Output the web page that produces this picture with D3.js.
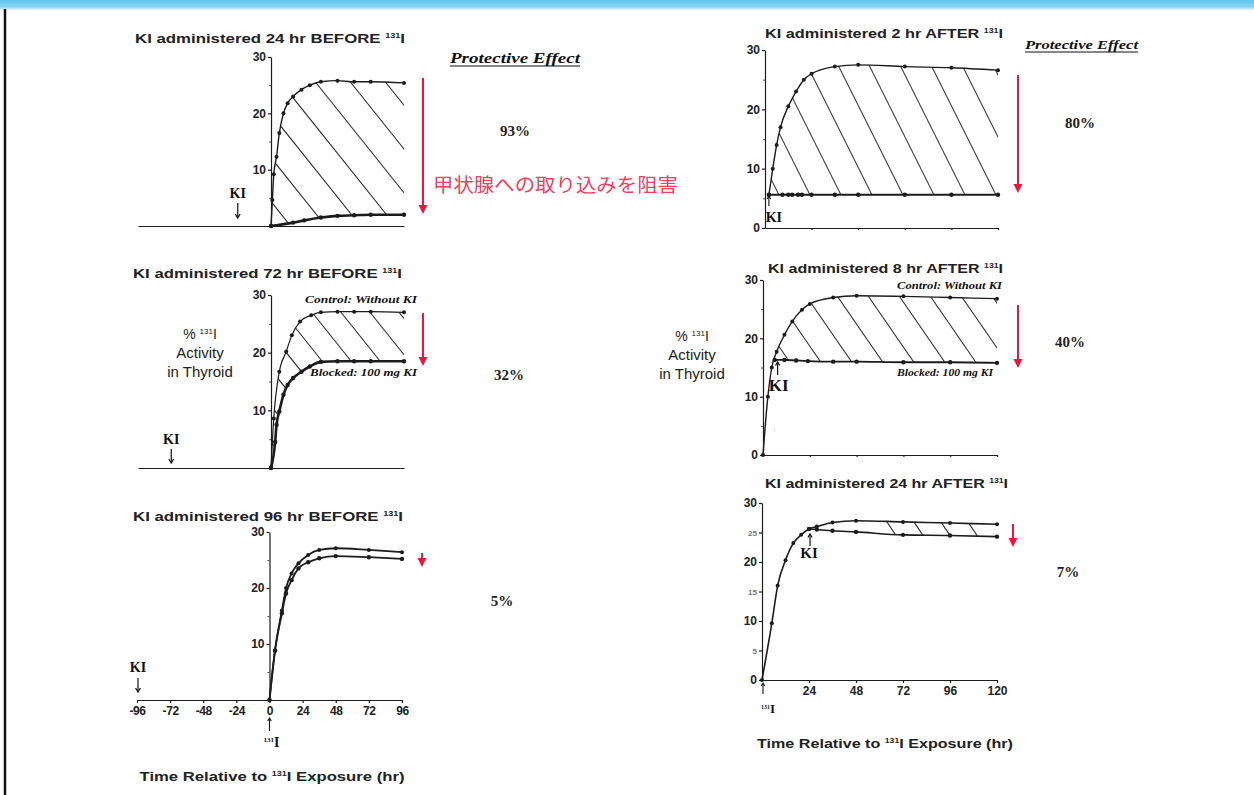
<!DOCTYPE html>
<html>
<head>
<meta charset="utf-8">
<script src="https://cdn.jsdelivr.net/npm/d3@7"></script>
<style>
  html, body { margin: 0; padding: 0; background: #fff; }
  svg { display: block; }
</style>
</head>
<body>
<svg id="chart" width="1254" height="795"></svg>
<script>
// ---- Data: % 131I activity in thyroid vs hours relative to 131I exposure ----

// KI 24 hr before
const p1ControlHours = [0, 1, 2, 4, 6, 9, 12, 16, 22, 28, 36, 48, 60, 72, 96];
const p1ControlPct   = [0, 4.6, 9.2, 12.3, 16.5, 20, 21.8, 23, 24.2, 25, 25.6, 25.8, 25.6, 25.6, 25.4];
const p1BlockedHours = [0, 16, 24, 36, 48, 60, 72, 96];
const p1BlockedPct   = [0, 0.6, 1.0, 1.5, 1.8, 1.9, 2.0, 2.0];

// KI 72 hr before
const p2ControlHours = [0, 2, 6, 11, 15, 21, 29, 36, 48, 60, 72, 96];
const p2ControlPct   = [0, 8.6, 16.7, 20.2, 23, 25.4, 26.5, 27, 27.1, 27.1, 27.1, 27];
const p2BlockedHours = [0, 3, 4, 6, 9, 12, 16, 22, 28, 36, 48, 60, 72, 96];
const p2BlockedPct   = [0, 4.5, 7.5, 9.8, 12.7, 14.4, 15.6, 16.7, 17.6, 18.4, 18.5, 18.5, 18.5, 18.5];

// KI 96 hr before
const p3Hours        = [0, 4, 9, 12, 16, 21, 28, 36, 48, 72, 96];
const p3ControlPct   = [0, 8.9, 16, 20, 22.6, 24.4, 25.9, 26.8, 27.1, 26.8, 26.4];
const p3BlockedPct   = [0, 8.8, 15.5, 19, 21.4, 23.5, 24.6, 25.3, 25.7, 25.5, 25.2];

// KI 2 hr after
const p4ControlHours = [2, 4, 6, 8, 12, 16, 20, 24, 36, 48, 72, 96, 120];
const p4ControlPct   = [5.6, 10, 14, 17, 20.5, 23, 25, 26, 27.2, 27.5, 27.2, 27, 26.6];
const p4BlockedHours = [2, 9, 12, 14, 17, 19, 24, 36, 48, 72, 96, 120];
const p4BlockedPct   = [5.6, 5.6, 5.6, 5.6, 5.6, 5.6, 5.6, 5.6, 5.6, 5.6, 5.6, 5.6];

// KI 8 hr after
const p5ControlHours = [0, 2.5, 4.5, 7, 11, 15, 20, 24, 36, 48, 72, 96, 120];
const p5ControlPct   = [0, 10, 15, 17.7, 20.6, 22.9, 24.9, 25.9, 27, 27.3, 27.2, 27, 26.8];
const p5BlockedHours = [6, 11, 17, 23, 36, 48, 72, 96, 120];
const p5BlockedPct   = [16.3, 16.3, 16.2, 16.1, 16, 16, 15.9, 15.9, 15.8];

// KI 24 hr after
const p6ControlHours = [0, 5, 8, 12, 16, 20, 24, 28, 36, 48, 72, 96, 120];
const p6ControlPct   = [0, 9.6, 16, 20.3, 23.2, 24.6, 25.6, 26.0, 26.7, 27, 26.8, 26.6, 26.4];
const p6BlockedHours = [24, 28, 36, 48, 72, 96, 120];
const p6BlockedPct   = [25.6, 25.5, 25.3, 25.1, 24.6, 24.5, 24.3];

// Text content
const panelTitles = [
  'KI administered 24 hr BEFORE ',
  'KI administered 72 hr BEFORE ',
  'KI administered 96 hr BEFORE ',
  'KI administered 2 hr AFTER ',
  'KI administered 8 hr AFTER ',
  'KI administered 24 hr AFTER '
];
const effectLabels = ['93%', '32%', '5%', '80%', '40%', '7%'];
const leftYTicks = [10, 20, 30];
const rightYTicks = [0, 10, 20, 30];
const fineYTicks = [0, 5, 10, 15, 20, 25, 30];
const minorYTicks = [5, 15, 25];
const beforeHourTicks = [-96, -72, -48, -24, 0, 24, 48, 72, 96];
const afterHourTicks = [24, 48, 72, 96, 120];
const axisTitle = ['Time Relative to ', ' Exposure (hr)'];
const yLabelLines = ['Activity', 'in Thyroid'];
const controlLabel = 'Control: Without KI';
const blockedLabel = 'Blocked: 100 mg KI';
const effectHeading = 'Protective Effect';
const jpNote = '甲状腺への取り込みを阻害';

// ---- Drawing ----
const W = 1254, H = 795;
const svg = d3.select('#chart');
const defs = svg.append('defs');
const SANS = '"Liberation Sans", Arial, sans-serif';
const SERIF = '"Liberation Serif", "Times New Roman", serif';
const RED = '#e8173d';
const INK = '#1c1c1c';

svg.append('rect').attr('width', W).attr('height', H).attr('fill', '#fff');
const band = defs.append('linearGradient').attr('id', 'topBand')
  .attr('x1', 0).attr('y1', 0).attr('x2', 0).attr('y2', 1);
band.append('stop').attr('offset', '0%').attr('stop-color', '#5ec3ea');
band.append('stop').attr('offset', '70%').attr('stop-color', '#8ad4f1');
band.append('stop').attr('offset', '100%').attr('stop-color', '#e8f6fc');
svg.append('rect').attr('width', W).attr('height', 10).attr('fill', 'url(#topBand)');
svg.append('line').attr('x1', 5).attr('x2', 5).attr('y1', 9).attr('y2', H)
  .attr('stroke', '#111').attr('stroke-width', 2.5);

const series = (hours, pct) => hours.map((h, i) => ({ t: h, v: pct[i] }));
const plainNumber = d => String(d);

// Title / label text with a superscript "131" before "I"
function isotopeText(sel, before, after, supSize, shift) {
  sel.append('tspan').text(before);
  sel.append('tspan').attr('font-size', supSize).attr('dy', -shift).text('131');
  sel.append('tspan').attr('dy', shift).text('I' + (after || ''));
  return sel;
}

function vArrow(g, x, y1, y2, color, width, head) {
  // y1 = tail, y2 = tip
  const dir = y2 > y1 ? 1 : -1;
  g.append('line').attr('x1', x).attr('x2', x).attr('y1', y1).attr('y2', y2 - dir * 1)
    .attr('stroke', color).attr('stroke-width', width);
  g.append('path')
    .attr('d', `M${x - head * 0.6},${y2 - dir * head} L${x},${y2} L${x + head * 0.6},${y2 - dir * head}`)
    .attr('fill', 'none').attr('stroke', color).attr('stroke-width', width);
}

function redArrow(x, y1, y2, headH, headW) {
  svg.append('line').attr('x1', x).attr('x2', x).attr('y1', y1).attr('y2', y2 - headH + 1)
    .attr('stroke', RED).attr('stroke-width', 2);
  svg.append('path')
    .attr('d', `M${x - headW},${y2 - headH} L${x + headW},${y2 - headH} L${x},${y2} Z`)
    .attr('fill', RED);
}

const panels = [
  { key: 'p1', title: panelTitles[0], tx: 135, ty: 43, tw: 270,
    xDomain: [-96, 96], xRange: [138, 404], yRange: [226, 57], yTicks: leftYTicks,
    control: series(p1ControlHours, p1ControlPct), blocked: series(p1BlockedHours, p1BlockedPct),
    cw: 1.4, bw: 2.6, hatch: { ax: 320, ay: 219, sp: 35, slope: 1.25 } },
  { key: 'p2', title: panelTitles[1], tx: 133, ty: 278, tw: 269,
    xDomain: [-96, 96], xRange: [138, 404], yRange: [468, 295], yTicks: leftYTicks,
    control: series(p2ControlHours, p2ControlPct), blocked: series(p2BlockedHours, p2BlockedPct),
    cw: 1.2, bw: 2.6, hatch: { ax: 380, ay: 361, sp: 29, slope: 1.25 } },
  { key: 'p3', title: panelTitles[2], tx: 133, ty: 521, tw: 270,
    xDomain: [-96, 96], xRange: [137, 402], yRange: [700, 532], yTicks: leftYTicks,
    control: series(p3Hours, p3ControlPct), blocked: series(p3Hours, p3BlockedPct),
    cw: 1.8, bw: 1.8, xTicks: beforeHourTicks },
  { key: 'p4', title: panelTitles[3], tx: 765, ty: 38, tw: 238,
    xDomain: [0, 120], xRange: [765, 998], yRange: [228, 50], yTicks: rightYTicks,
    control: series(p4ControlHours, p4ControlPct), blocked: series(p4BlockedHours, p4BlockedPct),
    cw: 1.4, bw: 2.0, hatch: { ax: 903, ay: 195, sp: 31, slope: 2.0, color: '#444' }, xMarks: afterHourTicks },
  { key: 'p5', title: panelTitles[4], tx: 768, ty: 273, tw: 235,
    xDomain: [0, 120], xRange: [763, 997], yRange: [455, 280], yTicks: rightYTicks,
    control: series(p5ControlHours, p5ControlPct), blocked: series(p5BlockedHours, p5BlockedPct),
    cw: 1.4, bw: 1.8, hatch: { ax: 913, ay: 361, sp: 31, slope: 1.45 }, xMarks: afterHourTicks },
  { key: 'p6', title: panelTitles[5], tx: 765, ty: 488, tw: 243,
    xDomain: [0, 120], xRange: [762, 997], yRange: [680, 503], yTicks: fineYTicks,
    control: series(p6ControlHours, p6ControlPct), blocked: series(p6BlockedHours, p6BlockedPct),
    cw: 1.6, bw: 1.6, hatch: { ax: 920, ay: 531, sp: 27, slope: 1.5, from: 880 }, xTicks: afterHourTicks }
];

function styleAxisText(sel, size) {
  sel.selectAll('text').attr('font-family', SANS).attr('font-weight', 'bold')
    .attr('font-size', size).attr('fill', '#222');
  sel.selectAll('line, path').attr('stroke', INK).attr('stroke-width', 1.2);
}

const scales = {};

panels.forEach(p => {
  const g = svg.append('g').attr('class', 'panel-' + p.key);
  const x = d3.scaleLinear().domain(p.xDomain).range(p.xRange);
  const y = d3.scaleLinear().domain([0, 30]).range(p.yRange);
  scales[p.key] = { x, y };
  const line = d3.line().x(d => x(d.t)).y(d => y(d.v)).curve(d3.curveMonotoneX);

  // Title
  const title = g.append('text').attr('x', p.tx).attr('y', p.ty)
    .attr('font-family', SANS).attr('font-weight', 'bold').attr('font-size', 13).attr('fill', '#222')
    .attr('textLength', p.tw).attr('lengthAdjust', 'spacingAndGlyphs');
  isotopeText(title, p.title, '', 7, 5);

  // Hatched band between control and blocked curves
  if (p.hatch) {
    const id = 'band-' + p.key;
    const m = defs.append('mask').attr('id', id).attr('maskUnits', 'userSpaceOnUse')
      .attr('x', 0).attr('y', 0).attr('width', W).attr('height', H);
    m.append('rect').attr('width', W).attr('height', H).attr('fill', 'black');
    const under = floor => d3.area().x(d => x(d.t)).y0(floor).y1(d => y(d.v)).curve(d3.curveMonotoneX);
    m.append('path').attr('d', under(y(0))(p.control)).attr('fill', 'white');
    m.append('path').attr('d', under(y(0) + 40)(p.blocked)).attr('fill', 'black');
    m.append('rect').attr('x', 0).attr('y', 0).attr('width', x(p.blocked[0].t)).attr('height', H).attr('fill', 'black');
    if (p.hatch.from) {
      m.append('rect').attr('x', 0).attr('y', 0).attr('width', p.hatch.from).attr('height', H).attr('fill', 'black');
    }
    const h = p.hatch;
    const yTop = y(30) - 10, yBot = y(0) + 10;
    g.append('g').attr('mask', `url(#${id})`)
      .selectAll('line').data(d3.range(-30, 31)).join('line')
      .attr('x1', k => h.ax + k * h.sp - (h.ay - yTop) / h.slope).attr('y1', yTop)
      .attr('x2', k => h.ax + k * h.sp + (yBot - h.ay) / h.slope).attr('y2', yBot)
      .attr('stroke', h.color || '#2a2a2a').attr('stroke-width', 1.1);
  }

  // Y axis
  const yAxis = g.append('g').attr('transform', `translate(${x(0)},0)`)
    .call(d3.axisLeft(y).tickValues(p.yTicks).tickSize(3).tickSizeOuter(0).tickPadding(2).tickFormat(plainNumber));
  styleAxisText(yAxis, 12);
  if (p.key === 'p6') {
    yAxis.selectAll('.tick').filter(d => minorYTicks.includes(d)).select('text')
      .attr('font-size', 8).attr('fill', '#777');
  } else {
    const minor = g.append('g').attr('transform', `translate(${x(0)},0)`)
      .call(d3.axisLeft(y).tickValues(minorYTicks).tickSize(2).tickSizeOuter(0).tickFormat(''));
    minor.select('.domain').remove();
    minor.selectAll('line').attr('stroke', '#555').attr('stroke-width', 1);
  }

  // X axis
  const xAxis = g.append('g').attr('transform', `translate(0,${y(0)})`);
  if (p.xTicks) {
    xAxis.call(d3.axisBottom(x).tickValues(p.xTicks).tickSize(3).tickSizeOuter(0).tickPadding(3).tickFormat(plainNumber));
  } else if (p.xMarks) {
    xAxis.call(d3.axisBottom(x).tickValues(p.xMarks).tickSize(2).tickSizeOuter(0).tickFormat(''));
  } else {
    xAxis.call(d3.axisBottom(x).tickValues([]).tickSizeOuter(0));
  }
  styleAxisText(xAxis, 12);
  if (p.key === 'p3') xAxis.selectAll('text').attr('letter-spacing', -0.4);

  // Curves
  g.append('path').datum(p.control).attr('d', line)
    .attr('fill', 'none').attr('stroke', INK).attr('stroke-width', p.cw);
  g.append('path').datum(p.blocked).attr('d', line)
    .attr('fill', 'none').attr('stroke', INK).attr('stroke-width', p.bw);
  g.append('g').selectAll('circle').data(p.control).join('circle')
    .attr('cx', d => x(d.t)).attr('cy', d => y(d.v)).attr('r', 2).attr('fill', INK);
  g.append('g').selectAll('circle').data(p.blocked).join('circle')
    .attr('cx', d => x(d.t)).attr('cy', d => y(d.v)).attr('r', 2.2).attr('fill', INK);
});

// ---- Annotations ----
const ann = svg.append('g');

// "KI" dose markers
function kiLabel(x, y, size) {
  ann.append('text').attr('x', x).attr('y', y).attr('text-anchor', 'middle')
    .attr('font-family', SERIF).attr('font-weight', 'bold').attr('font-size', size).attr('fill', '#111')
    .text('KI');
}
{
  const s1 = scales.p1, s2 = scales.p2, s3 = scales.p3, s4 = scales.p4, s5 = scales.p5, s6 = scales.p6;
  kiLabel(s1.x(-24), 198, 14); vArrow(ann, s1.x(-24), 203, 218, '#111', 1.2, 4);
  kiLabel(s2.x(-72), 444, 14); vArrow(ann, s2.x(-72), 449, 463, '#111', 1.2, 4);
  kiLabel(s3.x(-96) + 1, 672, 14); vArrow(ann, s3.x(-96) + 1, 678, 692, '#111', 1.2, 4);
  kiLabel(s4.x(2) + 5, 222, 14); vArrow(ann, s4.x(2), 206, 196, '#111', 1.1, 3);
  kiLabel(s5.x(8), 391, 17); vArrow(ann, s5.x(8) - 1, 375, 362, '#111', 1.2, 3.5);
  kiLabel(s6.x(24), 558, 15); vArrow(ann, s6.x(24) + 1, 546, 534, '#111', 1.2, 3.5);

  // 131I exposure markers under the time axes
  vArrow(ann, s3.x(0), 731, 718, '#111', 1.1, 3);
  isotopeText(ann.append('text').attr('x', s3.x(0) + 2).attr('y', 747).attr('text-anchor', 'middle')
    .attr('font-family', SERIF).attr('font-weight', 'bold').attr('font-size', 14).attr('fill', '#111'),
    '', '', 7, 5);
  vArrow(ann, s6.x(0) + 1, 694, 683, '#111', 1.1, 3);
  isotopeText(ann.append('text').attr('x', s6.x(0) + 6).attr('y', 713).attr('text-anchor', 'middle')
    .attr('font-family', SERIF).attr('font-weight', 'bold').attr('font-size', 13).attr('fill', '#111'),
    '', '', 6, 4);
}

// Time axis titles
[[272, 781, 265], [885, 748, 256]].forEach(([cx, cy, w]) => {
  const t = ann.append('text').attr('x', cx - w / 2).attr('y', cy)
    .attr('font-family', SANS).attr('font-weight', 'bold').attr('font-size', 13).attr('fill', '#222')
    .attr('textLength', w).attr('lengthAdjust', 'spacingAndGlyphs');
  isotopeText(t, axisTitle[0], axisTitle[1], 7, 5);
});

// Y axis titles
[[200, 339], [692, 341]].forEach(([cx, top]) => {
  const t0 = ann.append('text').attr('x', cx).attr('y', top).attr('text-anchor', 'middle')
    .attr('font-family', SANS).attr('font-size', 14).attr('fill', '#222');
  isotopeText(t0, '% ', '', 8, 5);
  yLabelLines.forEach((s, i) => {
    ann.append('text').attr('x', cx).attr('y', top + 19 * (i + 1)).attr('text-anchor', 'middle')
      .attr('font-family', SANS).attr('font-size', 15).attr('fill', '#222').text(s);
  });
});

// Curve labels
function curveLabel(s, x, y, w) {
  ann.append('text').attr('x', x).attr('y', y)
    .attr('font-family', SERIF).attr('font-weight', 'bold').attr('font-style', 'italic')
    .attr('font-size', 10).attr('fill', '#111')
    .attr('textLength', w).attr('lengthAdjust', 'spacingAndGlyphs').text(s);
}
curveLabel(controlLabel, 305, 303, 112);
curveLabel(blockedLabel, 310, 376, 107);
curveLabel(controlLabel, 897, 289, 105);
curveLabel(blockedLabel, 897, 376, 96);

// "Protective Effect" headings
[[450, 63, 130, 15], [1025, 49, 113, 13]].forEach(([x, y, w, fs]) => {
  ann.append('text').attr('x', x).attr('y', y)
    .attr('font-family', SERIF).attr('font-weight', 'bold').attr('font-style', 'italic')
    .attr('font-size', fs).attr('fill', '#111')
    .attr('textLength', w).attr('lengthAdjust', 'spacingAndGlyphs').text(effectHeading);
  ann.append('line').attr('x1', x).attr('x2', x + w).attr('y1', y + 3).attr('y2', y + 3)
    .attr('stroke', '#111').attr('stroke-width', 1.2);
});

// Effect percentages
[[515, 136], [509, 380], [502, 606], [1080, 128], [1070, 347], [1068, 577]].forEach(([x, y], i) => {
  ann.append('text').attr('x', x).attr('y', y).attr('text-anchor', 'middle')
    .attr('font-family', SERIF).attr('font-weight', 'bold').attr('font-size', 15).attr('fill', '#222')
    .text(effectLabels[i]);
});

// Red reduction arrows
redArrow(423, 78, 214, 9, 4.5);
redArrow(423, 313, 366, 9, 4.5);
redArrow(422, 553, 567, 9, 4.5);
redArrow(1018, 75, 193, 9, 4.5);
redArrow(1018, 305, 368, 9, 4.5);
redArrow(1013, 524, 547, 9, 4.5);

// Japanese note
ann.append('text').attr('x', 433).attr('y', 192)
  .attr('font-family', '"Noto Sans CJK JP", sans-serif').attr('font-size', 19).attr('fill', '#f0405e')
  .attr('textLength', 245).attr('lengthAdjust', 'spacingAndGlyphs').text(jpNote);
</script>
</body>
</html>
